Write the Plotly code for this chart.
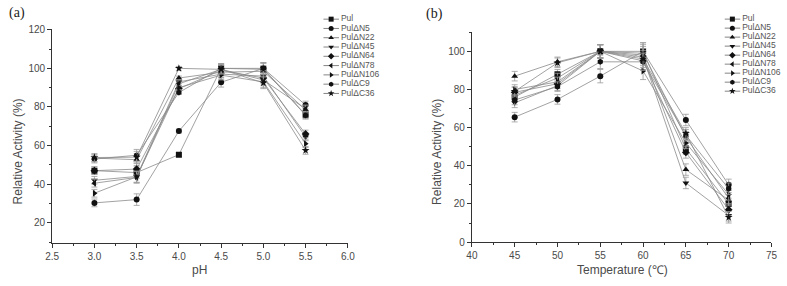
import plotly.graph_objects as go

W, H = 787, 286

def xp(px):
    return px / W

def yp(py):
    return 1 - py / H

names = ["Pul", "PulΔN5", "PulΔN22", "PulΔN45", "PulΔN64", "PulΔN78", "PulΔN106", "PulΔC9", "PulΔC36"]
symbols = ["square", "circle", "triangle-up", "triangle-down", "diamond", "triangle-left", "triangle-right", "hexagon", "star"]

ph = [3.0, 3.5, 4.0, 4.5, 5.0, 5.5]
temp = [45, 50, 55, 60, 65, 70]

# (a) relative activity vs pH
ph_Pul = [47.0, 46.0, 55.3, 100.0, 99.5, 76.0]
ph_N5 = [30.3, 32.0, 67.5, 92.8, 100.0, 81.0]
ph_N22 = [53.5, 52.7, 95.0, 98.0, 98.5, 78.5]
ph_N45 = [42.0, 44.0, 93.0, 97.0, 96.0, 64.5]
ph_N64 = [47.0, 47.8, 89.5, 99.0, 95.0, 66.0]
ph_N78 = [40.5, 43.5, 92.0, 99.5, 94.0, 79.0]
ph_N106 = [35.3, 43.8, 90.0, 96.5, 93.0, 61.0]
ph_C9 = [53.0, 55.0, 87.5, 100.0, 100.0, 75.7]
ph_C36 = [53.8, 54.0, 100.0, 99.5, 92.5, 57.5]
ph_err = [2.0, 3.0, 1.0, 2.5, 3.0, 2.0]

# (b) relative activity vs temperature
t_Pul = [76.0, 88.0, 100.0, 100.0, 49.0, 20.0]
t_N5 = [65.5, 74.8, 87.0, 100.0, 64.0, 30.0]
t_N22 = [87.0, 94.5, 100.0, 98.0, 38.0, 22.0]
t_N45 = [73.0, 82.0, 100.0, 97.0, 31.0, 14.0]
t_N64 = [78.5, 83.0, 100.0, 95.0, 47.0, 17.0]
t_N78 = [77.0, 86.0, 100.0, 99.0, 55.0, 23.0]
t_N106 = [80.0, 84.0, 100.0, 89.7, 52.0, 25.0]
t_C9 = [74.5, 81.5, 94.5, 94.5, 56.0, 28.0]
t_C36 = [79.0, 94.0, 100.0, 96.0, 57.0, 13.0]
t_err = [2.5, 2.5, 3.5, 4.5, 3.0, 3.0]

ph_series = [ph_Pul, ph_N5, ph_N22, ph_N45, ph_N64, ph_N78, ph_N106, ph_C9, ph_C36]
t_series = [t_Pul, t_N5, t_N22, t_N45, t_N64, t_N78, t_N106, t_C9, t_C36]

LINE = "#8a8a8a"
MARK = "#111111"
ERR = "#9a9a9a"
TXT = "#4a4a4a"
FONT = "Liberation Sans, Arial, sans-serif"

fig = go.Figure()

def add_panel(xv, series, err, xa, ya):
    for nm, sym, ys in zip(names, symbols, series):
        fig.add_trace(go.Scatter(
            x=xv, y=ys, mode="lines+markers", name=nm, showlegend=False,
            xaxis=xa, yaxis=ya,
            line=dict(color=LINE, width=0.8),
            marker=dict(symbol=sym, size=6, color=MARK, line=dict(width=0)),
            error_y=dict(type="data", array=err, color=ERR, thickness=0.8, width=3),
        ))

add_panel(ph, ph_series, ph_err, "x", "y")
add_panel(temp, t_series, t_err, "x2", "y2")

# compact legends drawn in small helper axes
def add_legend(xa, ya):
    rows = list(range(len(names)))
    for i, (nm, sym) in enumerate(zip(names, symbols)):
        fig.add_trace(go.Scatter(x=[0, 16], y=[i, i], mode="lines", xaxis=xa, yaxis=ya,
                                 showlegend=False, hoverinfo="skip", cliponaxis=False,
                                 line=dict(color="#666666", width=0.8)))
        fig.add_trace(go.Scatter(x=[8], y=[i], mode="markers", xaxis=xa, yaxis=ya,
                                 showlegend=False, hoverinfo="skip", cliponaxis=False,
                                 marker=dict(symbol=sym, size=5, color=MARK, line=dict(width=0))))
    fig.add_trace(go.Scatter(x=[18] * len(names), y=rows, mode="text", text=names,
                             textposition="middle right", xaxis=xa, yaxis=ya,
                             showlegend=False, hoverinfo="skip", cliponaxis=False,
                             textfont=dict(family=FONT, size=8.5, color="#555555")))

add_legend("x3", "y3")
add_legend("x4", "y4")

axis_common = dict(
    showline=True, linecolor="#333333", linewidth=1, showgrid=False, zeroline=False,
    ticks="outside", ticklen=4, tickwidth=1, tickcolor="#333333",
    tickfont=dict(family=FONT, size=10, color=TXT),
    mirror=False,
)

def hidden(dom, rng, anchor):
    return dict(domain=dom, range=rng, visible=False, showgrid=False, zeroline=False,
                fixedrange=True, anchor=anchor)

fig.update_layout(
    width=W, height=H,
    margin=dict(l=0, r=0, t=0, b=0),
    paper_bgcolor="white", plot_bgcolor="rgba(0,0,0,0)",
    xaxis=dict(**axis_common, domain=[xp(46), xp(347)], range=[2.5, 6.0], dtick=0.5, tick0=2.5,
               tickformat=".1f", anchor="y",
               minor=dict(ticks="outside", ticklen=2, dtick=0.25, tick0=2.5, tickcolor="#333333")),
    yaxis=dict(**axis_common, domain=[yp(247.7), yp(25.7)], range=[9.5, 120.5], dtick=20, tick0=0,
               anchor="x",
               minor=dict(ticks="outside", ticklen=2, dtick=10, tick0=0, tickcolor="#333333")),
    xaxis2=dict(**axis_common, domain=[xp(473.3), xp(778.3)], range=[40, 75], dtick=5, tick0=40,
                anchor="y2",
                minor=dict(ticks="outside", ticklen=2, dtick=2.5, tick0=40, tickcolor="#333333")),
    yaxis2=dict(**axis_common, domain=[yp(246.7), yp(29.3)], range=[0, 110], dtick=20, tick0=0,
                anchor="x2",
                minor=dict(ticks="outside", ticklen=2, dtick=10, tick0=0, tickcolor="#333333")),
    xaxis3=hidden([xp(322), xp(392)], [0, 70], "y3"),
    yaxis3=hidden([yp(97.5), yp(10.9)], [8.5, -0.5], "x3"),
    xaxis4=hidden([xp(730.5), xp(780)], [0, 49.5], "y4"),
    yaxis4=hidden([yp(95.0), yp(11.0)], [8.5, -0.5], "x4"),
    annotations=[
        dict(text="(a)", x=xp(0), y=yp(9), xref="paper", yref="paper", xanchor="left", yanchor="middle",
             showarrow=False, font=dict(family="Liberation Serif, Times New Roman, serif", size=14, color="#222")),
        dict(text="(b)", x=xp(425), y=yp(10), xref="paper", yref="paper", xanchor="left", yanchor="middle",
             showarrow=False, font=dict(family="Liberation Serif, Times New Roman, serif", size=14, color="#222")),
        dict(text="Relative Activity (%)", x=xp(11), y=yp(153), xref="paper", yref="paper",
             xanchor="center", yanchor="middle", textangle=-90, showarrow=False,
             font=dict(family=FONT, size=12, color=TXT)),
        dict(text="Relative Activity (%)", x=xp(437), y=yp(153), xref="paper", yref="paper",
             xanchor="center", yanchor="middle", textangle=-90, showarrow=False,
             font=dict(family=FONT, size=12, color=TXT)),
        dict(text="pH", x=xp(196), y=yp(276), xref="paper", yref="paper",
             xanchor="center", yanchor="middle", showarrow=False,
             font=dict(family=FONT, size=12, color=TXT)),
        dict(text="Temperature (℃)", x=xp(627), y=yp(276), xref="paper", yref="paper",
             xanchor="center", yanchor="middle", showarrow=False,
             font=dict(family=FONT, size=12, color=TXT)),
    ],
)

# remove the browser's default 8px page margin so the figure fills the window exactly; hide the modebar
fig.write_html("out.html", config={"displayModeBar": False},
               post_script="document.body.style.margin='0';")
